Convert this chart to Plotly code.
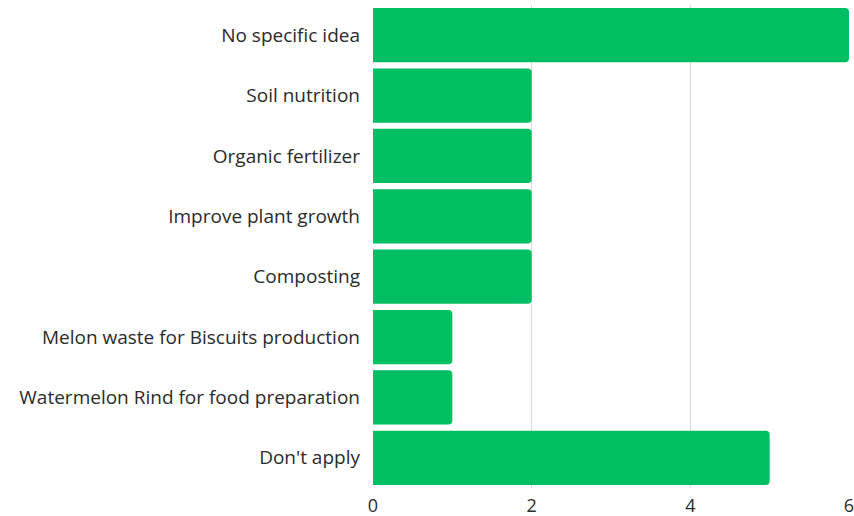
import plotly.graph_objects as go

categories = [
    "No specific idea",
    "Soil nutrition",
    "Organic fertilizer",
    "Improve plant growth",
    "Composting",
    "Melon waste for Biscuits production",
    "Watermelon Rind for food preparation",
    "Don't apply",
]
counts = [6, 2, 2, 2, 2, 1, 1, 5]
x_ticks = [0, 2, 4, 6]

fig = go.Figure(
    go.Bar(
        x=counts,
        y=categories,
        orientation="h",
        marker=dict(color="#00BF63", line=dict(width=0), cornerradius=4),
        hoverinfo="x+y",
    )
)

fig.update_layout(
    width=854,
    height=516,
    margin=dict(l=373, r=5, t=5, b=28, autoexpand=False),
    paper_bgcolor="white",
    plot_bgcolor="white",
    bargap=0.1,
    font=dict(family="Open Sans", size=19, color="#2b2b2b"),
    showlegend=False,
)

fig.update_xaxes(
    range=[0, 6],
    tickvals=x_ticks,
    tickfont=dict(size=18),
    showgrid=True,
    gridcolor="#D9D9D9",
    gridwidth=1,
    zeroline=False,
    showline=False,
    ticks="",
    ticklabelstandoff=5,
    ticklabeloverflow="allow",
    automargin=False,
)

fig.update_yaxes(
    autorange="reversed",
    showgrid=False,
    zeroline=False,
    showline=False,
    ticks="",
    ticklabelstandoff=12,
    automargin=False,
)

fig.write_html("out.html")
